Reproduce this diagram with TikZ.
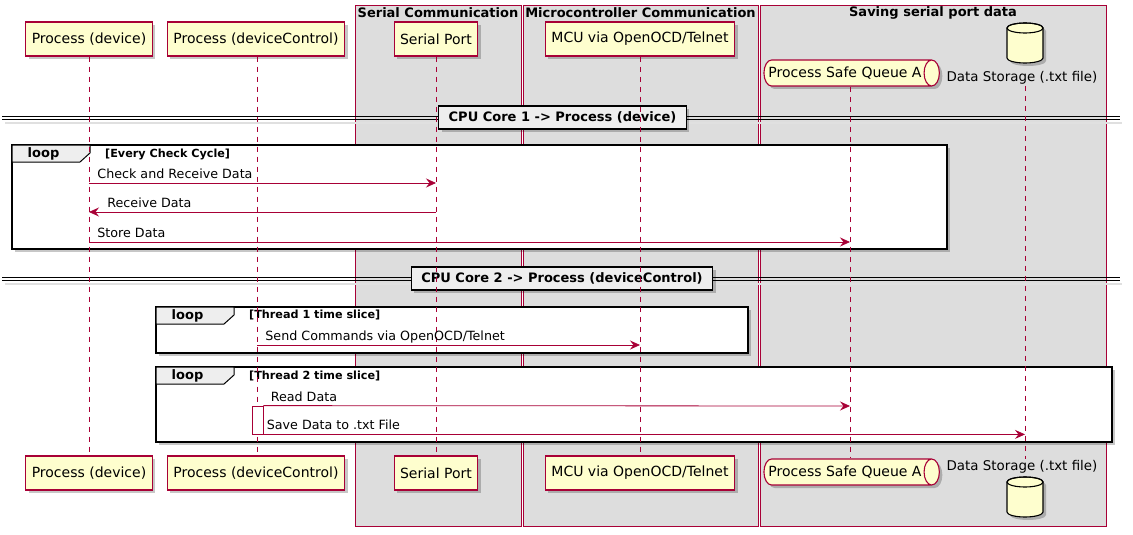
\documentclass[tikz,border=0pt]{standalone}
\usepackage{fontspec}
\setmainfont{DejaVu Sans}
\usetikzlibrary{shapes.geometric, arrows.meta, positioning, shadows}

\definecolor{umlred}{HTML}{A80036}
\definecolor{umlyellow}{HTML}{FEFECE}
\definecolor{boxgrey}{HTML}{DDDDDD}
\definecolor{tabgrey}{HTML}{EEEEEE}

\tikzset{
  umlshadow/.style={drop shadow={shadow xshift=3pt, shadow yshift=-3pt, opacity=0.22, fill=black}},
  participant/.style={draw=umlred, line width=1.1pt, fill=umlyellow, minimum height=34pt,
    inner xsep=6pt, font=\fontsize{14}{16}\selectfont, umlshadow},
  queue/.style={cylinder, draw=umlred, line width=1.1pt, fill=umlyellow, aspect=0.8,
    minimum height=173pt, minimum width=26pt, inner xsep=2pt,
    font=\fontsize{14}{16}\selectfont, umlshadow},
  storeline/.style={draw=black, line width=1.1pt, fill=umlyellow, umlshadow},
  storelabel/.style={font=\fontsize{13.4}{15}\selectfont, inner sep=1pt},
  grpbox/.style={draw=umlred, line width=0.8pt, fill=boxgrey},
  grptitle/.style={font=\fontsize{13}{15}\selectfont\bfseries, inner sep=0pt},
  divline/.style={draw=black, line width=0.9pt},
  divider/.style={draw=black, line width=1.2pt, fill=tabgrey, minimum height=23pt,
    inner xsep=10pt, font=\fontsize{13}{15}\selectfont\bfseries, umlshadow},
  frame/.style={draw=black, line width=1.5pt, fill=white, umlshadow},
  looptab/.style={draw=black, line width=1pt, fill=tabgrey},
  looplabel/.style={font=\fontsize{13}{15}\selectfont\bfseries, inner sep=0pt},
  guard/.style={font=\fontsize{11.2}{13}\selectfont\bfseries, inner sep=0pt, anchor=west},
  lifeline/.style={draw=umlred, line width=0.8pt, dash pattern=on 5pt off 5pt},
  msg/.style={draw=umlred, line width=0.8pt, -{Stealth[length=10pt, width=9pt, inset=3.5pt]}},
  msglabel/.style={font=\fontsize{12.7}{15}\selectfont, inner sep=0pt, anchor=base west},
  activation/.style={draw=umlred, line width=0.8pt, fill=white, minimum width=11pt,
    minimum height=28pt, inner sep=0pt}
}

\begin{document}
\begin{tikzpicture}[x=1pt, y=-1pt]
\useasboundingbox (0,0) rectangle (1133,535);

% Boxes round the participants
\draw[grpbox] (355,5) rectangle (521,526);
\draw[grpbox] (523,5) rectangle (758,526);
\draw[grpbox] (760,5) rectangle (1106,526);
\node[grptitle] (serialbox) at (438,12.5) {Serial Communication};
\node[grptitle] (mcubox) at (640.5,12.5) {Microcontroller Communication};
\node[grptitle] (savebox) at (933,12.5) {Saving serial port data};

% Divider: CPU core 1
\draw[black!12, line width=2.5pt] (5,123) -- (1122,123);
\draw[divline] (2,116) -- (1120,116);
\draw[divline] (2,119.5) -- (1120,119.5);
\node[divider] (core1) at (562.5,117.5) {CPU Core 1 -> Process (device)};

% Loop 1
\draw[frame] (12,145) rectangle (947,249);
\draw[looptab] (12,145) -- (90,145) -- (90,153) -- (80,162) -- (12,162) -- cycle;
\node[looplabel] (loop1) at (43.5,153.5) {loop};
\node[guard] (guard1) at (105,154) {[Every Check Cycle]};

% Divider: CPU core 2
\draw[black!12, line width=2.5pt] (5,284) -- (1122,284);
\draw[divline] (2,277) -- (1120,277);
\draw[divline] (2,280.5) -- (1120,280.5);
\node[divider] (core2) at (562,278.5) {CPU Core 2 -> Process (deviceControl)};

% Loop 2
\draw[frame] (156,307) rectangle (748,353);
\draw[looptab] (156,307) -- (234,307) -- (234,315) -- (224,324) -- (156,324) -- cycle;
\node[looplabel] (loop2) at (187.5,315.5) {loop};
\node[guard] (guard2) at (249,315) {[Thread 1 time slice]};

% Loop 3
\draw[frame] (156,367) rectangle (1112,442);
\draw[looptab] (156,367) -- (234,367) -- (234,375) -- (224,384) -- (156,384) -- cycle;
\node[looplabel] (loop3) at (187.5,375.5) {loop};
\node[guard] (guard3) at (249,376) {[Thread 2 time slice]};

% Participants (top)
\node[participant] (dev) at (89,39) {Process (device)};
\node[participant] (ctl) at (256,39) {Process (deviceControl)};
\node[participant] (ser) at (436,39) {Serial Port};
\node[participant] (mcu) at (640,39) {MCU via OpenOCD/Telnet};
\node[queue] (que) at (845,73) {Process Safe Queue A};
\coordinate (sto) at (1025,43);
\draw[storeline] (1007,28) -- (1007,58) arc[start angle=180, end angle=0, x radius=18, y radius=5]
  -- (1043,28) arc[start angle=0, end angle=-180, x radius=18, y radius=5] -- cycle;
\draw[black, line width=1.1pt] (sto |- 0,28) ellipse[x radius=18, y radius=5];
\node[storelabel] (stoT) at (1022,78) {Data Storage (.txt file)};

% Participants (bottom)
\node[participant] (devB) at (89,473) {Process (device)};
\node[participant] (ctlB) at (256,473) {Process (deviceControl)};
\node[participant] (serB) at (436,473) {Serial Port};
\node[participant] (mcuB) at (640,473) {MCU via OpenOCD/Telnet};
\node[queue] (queB) at (845,472) {Process Safe Queue A};
\node[storelabel] (stoB) at (1022,467) {Data Storage (.txt file)};
\draw[storeline] (1007,482) -- (1007,512) arc[start angle=180, end angle=0, x radius=18, y radius=5]
  -- (1043,482) arc[start angle=0, end angle=-180, x radius=18, y radius=5] -- cycle;
\draw[black, line width=1.1pt] (sto |- 0,482) ellipse[x radius=18, y radius=5];

% Lifelines
\draw[lifeline] (dev.south -| 89,0) -- (devB.north -| 89,0);
\draw[lifeline] (ctl.south -| 257,0) -- (ctlB.north -| 257,0);
\draw[lifeline] (ser.south) -- (serB.north);
\draw[lifeline] (mcu.south) -- (mcuB.north);
\draw[lifeline] (que.south -| 850,0) -- (queB.north -| 850,0);
\draw[lifeline] (stoT.south -| sto) -- (stoB.north -| sto);

% Messages of loop 1
\draw[msg] (89,183) -- (ser |- 0,183)
  node[msglabel, pos=0, xshift=8pt, yshift=4.5pt] {Check and Receive Data};
\draw[msg] (ser |- 0,212) -- (89,212)
  node[msglabel, pos=1, xshift=18pt, yshift=4.5pt] {Receive Data};
\draw[msg] (89,242) -- (850,242)
  node[msglabel, pos=0, xshift=8pt, yshift=4.5pt] {Store Data};

% Messages of loop 2 and 3
\draw[msg] (257,345) -- (mcu |- 0,345)
  node[msglabel, pos=0, xshift=8pt, yshift=4.5pt] {Send Commands via OpenOCD/Telnet};
\node[activation] (act) at (257.5,420) {};
\draw[msg] (act.north east) -- (850,406)
  node[msglabel, pos=0, xshift=7pt, yshift=4.5pt] {Read Data};
\draw[msg] (act.south east) -- (act.south east -| sto)
  node[msglabel, pos=0, xshift=3pt, yshift=4.5pt] {Save Data to .txt File};
\end{tikzpicture}
\end{document}
